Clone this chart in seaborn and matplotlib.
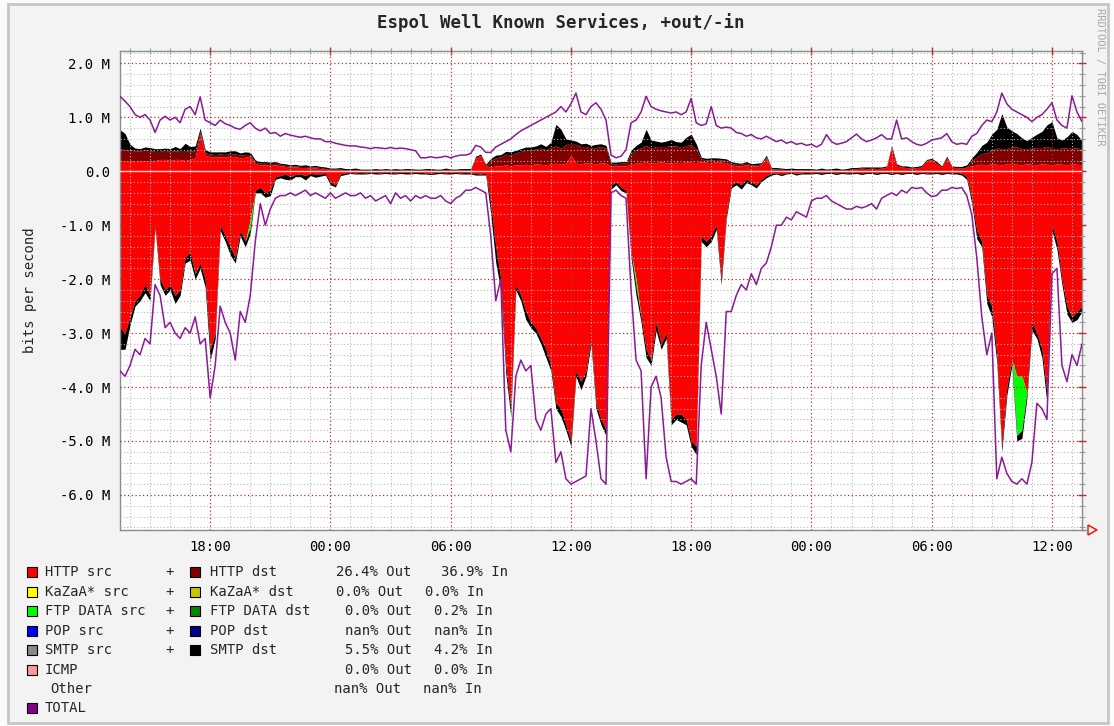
import matplotlib
matplotlib.use("Agg")
import numpy as np
import pandas as pd
import matplotlib.pyplot as plt
import matplotlib.dates as mdates
from matplotlib.ticker import MultipleLocator, FuncFormatter
from matplotlib.patches import Rectangle, Polygon
from matplotlib.lines import Line2D
import seaborn as sns

sns.set_style("white")
plt.rcParams["font.family"] = ["DejaVu Sans Mono", "DejaVu Sans"]

# ---- sample times: 15-minute steps over 48 hours ----
times = pd.date_range("2004-06-01 13:30", periods=193, freq="15min")

# ---- incoming traffic (Mbit/s, drawn below zero) ----
http_in = [
    2.9, 3.0, 2.7, 2.4, 2.3, 2.1, 2.3, 1.0, 2.0, 2.2,
    2.1, 2.3, 2.2, 1.6, 1.5, 1.9, 1.7, 2.0, 3.3, 3.0,
    1.0, 1.2, 1.4, 1.6, 1.1, 1.3, 0.9, 0.35, 0.3, 0.4,
    0.35, 0.1, 0.08, 0.05, 0.1, 0.06, 0.05, 0.08, 0.04, 0.05,
    0.05, 0.04, 0.2, 0.25, 0.05, 0.03, 0.02, 0.03, 0.02, 0.03,
    0.02, 0.02, 0.03, 0.02, 0.02, 0.03, 0.02, 0.02, 0.03, 0.02,
    0.02, 0.03, 0.04, 0.02, 0.02, 0.03, 0.02, 0.02, 0.03, 0.02,
    0.03, 0.04, 0.05, 0.04, 0.6, 1.4, 2.0, 3.6, 4.4, 2.1,
    2.3, 2.6, 2.8, 2.9, 3.1, 3.3, 3.6, 4.3, 4.4, 4.7,
    5.0, 3.7, 3.9, 3.7, 3.1, 4.3, 4.6, 4.8, 0.25, 0.2,
    0.3, 0.35, 1.5, 2.0, 2.7, 3.3, 3.5, 2.8, 3.2, 3.0,
    4.6, 4.5, 4.5, 4.6, 5.0, 5.1, 1.2, 1.3, 1.2, 1.0,
    2.0, 0.8, 0.25, 0.2, 0.25, 0.15, 0.2, 0.25, 0.15, 0.08,
    0.04, 0.03, 0.05, 0.03, 0.02, 0.04, 0.03, 0.02, 0.03, 0.02,
    0.03, 0.02, 0.02, 0.03, 0.02, 0.03, 0.02, 0.02, 0.03, 0.02,
    0.02, 0.03, 0.02, 0.02, 0.03, 0.02, 0.03, 0.02, 0.02, 0.03,
    0.02, 0.03, 0.02, 0.02, 0.03, 0.02, 0.03, 0.02, 0.04, 0.1,
    0.5, 1.1, 1.3, 2.3, 2.5, 3.4, 5.1, 4.0, 3.5, 3.8,
    3.8, 4.1, 2.8, 3.0, 3.3, 4.1, 1.0, 1.3, 2.0, 2.5,
    2.7, 2.6, 2.5,
]
ftp_in = [
    0, 0, 0, 0, 0, 0, 0, 0, 0, 0,
    0, 0, 0, 0, 0, 0, 0, 0, 0, 0,
    0, 0, 0, 0, 0, 0, 0.15, 0, 0, 0,
    0, 0, 0, 0, 0, 0, 0, 0, 0, 0,
    0, 0, 0, 0, 0, 0, 0, 0, 0, 0,
    0, 0, 0, 0, 0, 0, 0, 0, 0, 0,
    0, 0, 0, 0, 0, 0, 0, 0, 0, 0,
    0, 0, 0, 0, 0, 0, 0, 0, 0, 0,
    0, 0, 0, 0, 0, 0, 0, 0, 0, 0,
    0, 0, 0, 0, 0, 0, 0, 0, 0, 0,
    0, 0, 0, 0.15, 0, 0, 0, 0, 0, 0,
    0, 0, 0, 0, 0, 0, 0, 0, 0, 0,
    0, 0, 0, 0, 0, 0, 0, 0, 0, 0,
    0, 0, 0, 0, 0, 0, 0, 0, 0, 0,
    0, 0, 0, 0, 0, 0, 0, 0, 0, 0,
    0, 0, 0, 0, 0, 0, 0, 0, 0, 0,
    0, 0, 0, 0, 0, 0, 0, 0, 0, 0,
    0, 0, 0, 0, 0, 0, 0, 0, 0, 1.1,
    1.0, 0, 0, 0, 0, 0, 0, 0, 0, 0,
    0, 0, 0,
]
smtp_in = [
    0.4, 0.3, 0.15, 0.1, 0.1, 0.15, 0.1, 0.05, 0.1, 0.1,
    0.1, 0.15, 0.1, 0.1, 0.15, 0.1, 0.1, 0.15, 0.2, 0.1,
    0.1, 0.1, 0.15, 0.1, 0.1, 0.1, 0.1, 0.05, 0.1, 0.08,
    0.1, 0.05, 0.04, 0.1, 0.06, 0.04, 0.05, 0.08, 0.04, 0.06,
    0.04, 0.03, 0.05, 0.04, 0.03, 0.03, 0.02, 0.02, 0.03, 0.02,
    0.02, 0.03, 0.02, 0.02, 0.03, 0.02, 0.02, 0.03, 0.02, 0.02,
    0.03, 0.02, 0.02, 0.03, 0.02, 0.02, 0.03, 0.02, 0.02, 0.03,
    0.02, 0.03, 0.02, 0.03, 0.2, 0.3, 0.2, 0.15, 0.15, 0.1,
    0.1, 0.15, 0.1, 0.1, 0.1, 0.15, 0.1, 0.1, 0.15, 0.1,
    0.1, 0.1, 0.15, 0.1, 0.1, 0.1, 0.1, 0.1, 0.08, 0.05,
    0.06, 0.05, 0.1, 0.15, 0.1, 0.15, 0.1, 0.15, 0.1, 0.1,
    0.1, 0.1, 0.15, 0.1, 0.1, 0.15, 0.1, 0.1, 0.1, 0.08,
    0.1, 0.08, 0.06, 0.05, 0.08, 0.06, 0.05, 0.06, 0.04, 0.04,
    0.03, 0.02, 0.03, 0.02, 0.02, 0.03, 0.02, 0.03, 0.02, 0.02,
    0.03, 0.02, 0.02, 0.03, 0.02, 0.02, 0.03, 0.02, 0.03, 0.02,
    0.02, 0.03, 0.02, 0.02, 0.03, 0.02, 0.03, 0.02, 0.02, 0.03,
    0.02, 0.02, 0.03, 0.02, 0.03, 0.02, 0.02, 0.03, 0.03, 0.05,
    0.1, 0.15, 0.1, 0.15, 0.2, 0.15, 0.1, 0.15, 0.1, 0.1,
    0.15, 0.1, 0.15, 0.1, 0.15, 0.2, 0.1, 0.15, 0.1, 0.15,
    0.1, 0.15, 0.1,
]
total_in = [
    3.7, 3.8, 3.6, 3.3, 3.4, 3.1, 3.2, 2.1, 2.3, 2.9,
    2.8, 3.0, 3.1, 2.9, 3.0, 2.7, 3.2, 3.1, 4.2, 3.6,
    2.5, 2.8, 3.0, 3.5, 2.6, 2.8, 2.3, 1.3, 0.6, 1.0,
    0.7, 0.5, 0.45, 0.45, 0.4, 0.45, 0.4, 0.35, 0.45, 0.4,
    0.45, 0.5, 0.4, 0.5, 0.45, 0.4, 0.45, 0.45, 0.4, 0.5,
    0.45, 0.55, 0.5, 0.45, 0.6, 0.4, 0.5, 0.45, 0.55, 0.45,
    0.5, 0.45, 0.5, 0.5, 0.45, 0.55, 0.6, 0.5, 0.45, 0.35,
    0.35, 0.3, 0.35, 0.4, 1.2, 2.4, 2.0, 4.8, 5.2, 3.8,
    3.5, 3.7, 3.6, 4.6, 4.8, 4.5, 4.4, 5.4, 5.2, 5.7,
    5.8, 5.75, 5.7, 5.65, 4.4, 5.0, 5.7, 5.8, 0.4, 0.35,
    0.45, 0.5, 2.2, 3.5, 3.7, 5.7, 4.0, 3.8, 4.2, 5.3,
    5.75, 5.75, 5.8, 5.75, 5.7, 5.8, 3.6, 2.8, 3.3, 3.8,
    4.5, 2.6, 2.6, 2.3, 2.1, 2.2, 1.9, 2.1, 1.8, 1.7,
    1.4, 1.0, 1.0, 0.85, 0.9, 0.75, 0.8, 0.85, 0.55, 0.5,
    0.5, 0.45, 0.55, 0.6, 0.65, 0.7, 0.7, 0.65, 0.68, 0.65,
    0.6, 0.7, 0.5, 0.45, 0.4, 0.45, 0.35, 0.4, 0.3, 0.32,
    0.3, 0.4, 0.47, 0.45, 0.35, 0.35, 0.3, 0.32, 0.3, 0.45,
    0.8, 1.6, 2.7, 3.4, 3.0, 5.7, 5.3, 5.6, 5.75, 5.8,
    5.7, 5.8, 5.4, 4.3, 4.4, 4.6, 1.9, 1.8, 3.6, 3.9,
    3.4, 3.6, 3.2,
]

# ---- outgoing traffic (Mbit/s, drawn above zero) ----
http_src_out = [
    0.2, 0.2, 0.2, 0.18, 0.2, 0.2, 0.18, 0.2, 0.22, 0.22,
    0.2, 0.22, 0.22, 0.2, 0.22, 0.25, 0.7, 0.3, 0.27, 0.26,
    0.27, 0.26, 0.28, 0.27, 0.25, 0.26, 0.28, 0.14, 0.12, 0.12,
    0.11, 0.12, 0.1, 0.09, 0.08, 0.08, 0.07, 0.07, 0.06, 0.06,
    0.05, 0.05, 0.04, 0.04, 0.04, 0.03, 0.03, 0.03, 0.02, 0.02,
    0.02, 0.02, 0.02, 0.03, 0.02, 0.02, 0.02, 0.03, 0.02, 0.02,
    0.02, 0.03, 0.02, 0.02, 0.02, 0.03, 0.02, 0.02, 0.03, 0.02,
    0.03, 0.25, 0.3, 0.1, 0.08, 0.1, 0.1, 0.12, 0.1, 0.12,
    0.12, 0.13, 0.12, 0.14, 0.13, 0.12, 0.14, 0.15, 0.13, 0.15,
    0.3, 0.15, 0.14, 0.16, 0.15, 0.14, 0.16, 0.15, 0.1, 0.1,
    0.1, 0.1, 0.14, 0.15, 0.16, 0.18, 0.15, 0.16, 0.18, 0.16,
    0.15, 0.17, 0.16, 0.18, 0.17, 0.16, 0.18, 0.17, 0.16, 0.18,
    0.17, 0.16, 0.12, 0.1, 0.1, 0.12, 0.1, 0.1, 0.12, 0.25,
    0.05, 0.04, 0.04, 0.03, 0.03, 0.03, 0.03, 0.02, 0.03, 0.02,
    0.03, 0.02, 0.03, 0.03, 0.02, 0.03, 0.04, 0.05, 0.06, 0.05,
    0.06, 0.05, 0.06, 0.08, 0.45, 0.12, 0.08, 0.07, 0.06, 0.07,
    0.08, 0.2, 0.22, 0.15, 0.08, 0.25, 0.08, 0.07, 0.06, 0.08,
    0.1, 0.12, 0.13, 0.12, 0.14, 0.13, 0.12, 0.14, 0.15, 0.13,
    0.12, 0.14, 0.13, 0.12, 0.14, 0.13, 0.12, 0.14, 0.13, 0.12,
    0.14, 0.13, 0.12,
]
http_dst_out = [
    0.22, 0.2, 0.2, 0.2, 0.18, 0.2, 0.2, 0.17, 0.15, 0.17,
    0.17, 0.16, 0.15, 0.17, 0.16, 0.12, 0.05, 0.05, 0.05, 0.05,
    0.05, 0.05, 0.05, 0.05, 0.05, 0.05, 0.03, 0.03, 0.03, 0.03,
    0.03, 0.03, 0.03, 0.02, 0.02, 0.02, 0.02, 0.02, 0.02, 0.02,
    0.02, 0, 0, 0, 0, 0, 0, 0, 0, 0,
    0, 0, 0, 0, 0, 0, 0, 0, 0, 0,
    0, 0, 0, 0, 0, 0, 0, 0, 0, 0,
    0, 0, 0, 0, 0.12, 0.15, 0.17, 0.2, 0.2, 0.22,
    0.25, 0.26, 0.28, 0.27, 0.3, 0.28, 0.3, 0.32, 0.3, 0.35,
    0.2, 0.35, 0.32, 0.3, 0.28, 0.3, 0.3, 0.28, 0.04, 0.04,
    0.05, 0.05, 0.2, 0.25, 0.28, 0.3, 0.28, 0.3, 0.28, 0.3,
    0.32, 0.3, 0.28, 0.3, 0.32, 0.25, 0.05, 0.04, 0.05, 0.04,
    0.04, 0.04, 0.03, 0.03, 0.03, 0.03, 0.02, 0.02, 0.02, 0.02,
    0, 0, 0, 0, 0, 0, 0, 0, 0, 0,
    0, 0, 0, 0, 0, 0, 0, 0, 0, 0,
    0, 0, 0, 0, 0, 0, 0, 0, 0, 0,
    0, 0, 0, 0, 0, 0, 0, 0, 0, 0,
    0.1, 0.15, 0.2, 0.22, 0.25, 0.3, 0.3, 0.28, 0.3, 0.32,
    0.3, 0.28, 0.3, 0.32, 0.3, 0.33, 0.3, 0.28, 0.3, 0.32,
    0.3, 0.3, 0.3,
]
smtp_out = [
    0.35, 0.3, 0.1, 0.05, 0.04, 0.05, 0.06, 0.05, 0.05, 0.04,
    0.05, 0.08, 0.05, 0.15, 0.08, 0.1, 0.05, 0.05, 0.04, 0.05,
    0.04, 0.05, 0.05, 0.06, 0.04, 0.05, 0.04, 0.04, 0.03, 0.03,
    0.03, 0.03, 0.02, 0.03, 0.02, 0.03, 0.02, 0.03, 0.02, 0.03,
    0.02, 0.03, 0.02, 0.02, 0.03, 0.02, 0.02, 0.03, 0.02, 0.02,
    0.02, 0.03, 0.02, 0.02, 0.02, 0.03, 0.02, 0.02, 0.03, 0.02,
    0.02, 0.02, 0.03, 0.02, 0.02, 0.03, 0.02, 0.02, 0.02, 0.03,
    0.02, 0.03, 0.02, 0.03, 0.04, 0.05, 0.04, 0.05, 0.06, 0.05,
    0.05, 0.06, 0.05, 0.06, 0.08, 0.06, 0.1, 0.4, 0.35, 0.1,
    0.08, 0.06, 0.05, 0.06, 0.05, 0.06, 0.05, 0.05, 0.03, 0.03,
    0.03, 0.03, 0.05, 0.08, 0.1, 0.3, 0.15, 0.1, 0.08, 0.1,
    0.12, 0.08, 0.1, 0.15, 0.2, 0.1, 0.03, 0.03, 0.04, 0.03,
    0.03, 0.03, 0.03, 0.03, 0.02, 0.03, 0.02, 0.03, 0.02, 0.03,
    0.02, 0.03, 0.02, 0.02, 0.03, 0.02, 0.02, 0.03, 0.02, 0.02,
    0.03, 0.02, 0.02, 0.03, 0.02, 0.02, 0.03, 0.02, 0.02, 0.03,
    0.02, 0.03, 0.02, 0.02, 0.03, 0.02, 0.02, 0.03, 0.02, 0.02,
    0.03, 0.02, 0.02, 0.03, 0.02, 0.03, 0.02, 0.02, 0.03, 0.04,
    0.05, 0.08, 0.15, 0.2, 0.3, 0.35, 0.65, 0.4, 0.3, 0.25,
    0.2, 0.15, 0.2, 0.25, 0.3, 0.4, 0.5, 0.2, 0.15, 0.2,
    0.3, 0.25, 0.15,
]
total_out = [
    1.39, 1.3, 1.2, 1.05, 1.0, 1.05, 0.95, 0.72, 0.95, 1.02,
    0.95, 1.0, 0.9, 1.15, 1.2, 1.05, 1.38, 0.95, 0.9, 0.85,
    0.95, 0.88, 0.85, 0.8, 0.78, 0.85, 0.9, 0.8, 0.75, 0.8,
    0.7, 0.72, 0.65, 0.7, 0.67, 0.65, 0.63, 0.65, 0.62, 0.6,
    0.6, 0.55, 0.55, 0.52, 0.5, 0.48, 0.47, 0.47, 0.45, 0.44,
    0.42, 0.44, 0.43, 0.42, 0.44, 0.42, 0.43, 0.42, 0.4, 0.38,
    0.25, 0.25, 0.27, 0.25, 0.26, 0.28, 0.25, 0.28, 0.3, 0.3,
    0.33, 0.48, 0.45, 0.35, 0.35, 0.45, 0.5, 0.55, 0.6, 0.68,
    0.75, 0.8, 0.85, 0.9, 0.95, 1.0, 1.05, 1.1, 1.2, 1.1,
    1.25, 1.45, 1.1, 1.05, 1.2, 1.27, 1.15, 0.95, 0.3, 0.25,
    0.28, 0.4, 0.9, 0.95, 1.1, 1.39, 1.2, 1.15, 1.12, 1.1,
    1.08, 1.1, 1.05, 1.1, 1.35, 0.9, 0.85, 0.88, 1.2, 0.85,
    0.8, 0.82, 0.8, 0.72, 0.7, 0.65, 0.68, 0.62, 0.6, 0.65,
    0.6, 0.55, 0.58, 0.52, 0.55, 0.5, 0.52, 0.48, 0.5, 0.45,
    0.5, 0.68, 0.55, 0.5, 0.52, 0.55, 0.62, 0.69, 0.6, 0.55,
    0.58, 0.62, 0.68, 0.6, 0.6, 0.95, 0.6, 0.62, 0.55, 0.5,
    0.48, 0.52, 0.58, 0.6, 0.62, 0.7, 0.55, 0.5, 0.52, 0.5,
    0.65, 0.7, 0.85, 0.95, 0.92, 1.1, 1.45, 1.25, 1.15, 1.1,
    1.05, 1.0, 0.92, 1.0, 1.05, 1.15, 1.27, 0.95, 0.85, 0.8,
    1.4, 1.1, 0.92,
]

# ---- legend text ----
legend_src = ["HTTP src", "KaZaA* src", "FTP DATA src", "POP src", "SMTP src", "ICMP", "Other", "TOTAL"]
legend_dst = ["HTTP dst", "KaZaA* dst", "FTP DATA dst", "POP dst", "SMTP dst", None, None, None]
src_colors = ["#ff0000", "#ffff00", "#00ff00", "#0000ff", "#888888", "#ff9999", None, "#880088"]
dst_colors = ["#800000", "#c8c800", "#008800", "#000088", "#000000", None, None, None]
pct_out = ["26.4% Out", "0.0% Out", "0.0% Out", "nan% Out", "5.5% Out", "0.0% Out", "nan% Out", None]
pct_in = ["36.9% In", "0.0% In", "0.2% In", "nan% In", "4.2% In", "0.0% In", "nan% In", None]
title = "Espol Well Known Services, +out/-in"
ylabel = "bits per second"
credit = "RRDTOOL / TOBI OETIKER"

df = pd.DataFrame({
    "time": times,
    "http_in": http_in, "ftp_in": ftp_in, "smtp_in": smtp_in, "total_in": total_in,
    "http_src_out": http_src_out, "http_dst_out": http_dst_out,
    "smtp_out": smtp_out, "total_out": total_out,
})

W, H = 1114, 726
fig = plt.figure(figsize=(W / 100, H / 100), dpi=100, facecolor="#fbfbfb")


def fx(x):
    return x / W


def fy(y):
    return 1 - y / H


# outer frame
fig.patches.append(Rectangle((fx(8), fy(723)), fx(1108) - fx(8), fy(4) - fy(723),
                             transform=fig.transFigure, facecolor="#f3f3f3",
                             edgecolor="#c6c6c6", lw=2, zorder=-10))

ax = fig.add_axes([fx(120), fy(530), fx(1082) - fx(120), fy(51) - fy(530)])
ax.set_facecolor("white")

t = df["time"].values
# stacked outgoing areas
o1 = df["http_src_out"].values
o2 = o1 + df["http_dst_out"].values
o3 = o2 + df["smtp_out"].values
ax.fill_between(t, 0, o1, color="#ff0000", lw=0, zorder=1)
ax.fill_between(t, o1, o2, color="#800000", lw=0, zorder=1)
ax.fill_between(t, o2, o3, color="#000000", lw=0, zorder=1)
# stacked incoming areas
n1 = -df["http_in"].values
n2 = n1 - df["ftp_in"].values
n3 = n2 - df["smtp_in"].values
ax.fill_between(t, 0, n1, color="#ff0000", lw=0, zorder=1)
ax.fill_between(t, n1, n2, color="#00ff00", lw=0, zorder=1)
ax.fill_between(t, n2, n3, color="#000000", lw=0, zorder=1)

ax.axhline(0, color="#ffd8d8", lw=1.0, zorder=3)

# totals
sns.lineplot(data=df, x="time", y="total_out", color="#8a1a96", lw=1.1, ax=ax, zorder=4)
df["total_in_neg"] = -df["total_in"]
sns.lineplot(data=df, x="time", y="total_in_neg", color="#8a1a96", lw=1.1, ax=ax, zorder=4)

ax.set_xlim(times[0], times[-1])
ax.set_ylim(-6.65, 2.23)
ax.set_xlabel("")
ax.set_ylabel("")

ax.xaxis.set_major_locator(mdates.HourLocator(byhour=[0, 6, 12, 18]))
ax.xaxis.set_minor_locator(mdates.HourLocator())
ax.xaxis.set_major_formatter(mdates.DateFormatter("%H:%M"))
ax.yaxis.set_major_locator(MultipleLocator(1))
ax.yaxis.set_minor_locator(MultipleLocator(0.2))
ax.yaxis.set_major_formatter(FuncFormatter(lambda v, p: "0.0" if abs(v) < 1e-9 else f"{v:.1f} M"))

ax.set_axisbelow(False)
ax.grid(which="minor", color="#b8b8b8", ls=(0, (1, 2)), lw=0.8)
ax.grid(which="major", color="#b03030", ls=(0, (1, 2)), lw=0.9)

for s in ax.spines.values():
    s.set_color("#8c8c8c")
    s.set_linewidth(1.0)

ax.tick_params(which="both", top=True, right=True)
ax.tick_params(which="major", direction="inout", length=6, width=1.0, color="#b03030",
               labelsize=10, labelcolor="black")
ax.tick_params(which="minor", direction="inout", length=4, width=0.8, color="#999999")
ax.tick_params(axis="y", which="major", pad=4)
ax.tick_params(axis="x", which="major", pad=4)

# axis arrow at the right end of the time axis
fig.add_artist(Line2D([fx(1082), fx(1088)], [fy(530), fy(530)], color="#8c8c8c", lw=1,
                      transform=fig.transFigure))
fig.add_artist(Polygon([(fx(1088), fy(525)), (fx(1088), fy(535)), (fx(1097), fy(530))],
                       closed=True, transform=fig.transFigure, facecolor="none",
                       edgecolor="#ff0000", lw=1))

# titles
fig.text(fx(561), fy(23), title, ha="center", va="center", fontsize=12.5, fontweight="bold")
fig.text(fx(30), fy(290), ylabel, ha="center", va="center", rotation=90, fontsize=10)
fig.text(fx(1100), fy(77), credit, ha="center", va="center", rotation=270,
         fontsize=7.5, color="#a8a8a8")

# legend rows
row_y = [572, 592, 611, 631, 650, 670, 689, 708]
out_x = [336, 336, 345, 345, 345, 345, 334]
in_x = [441, 425, 434, 434, 434, 434, 423]
for i, yy in enumerate(row_y):
    if src_colors[i] is not None:
        fig.patches.append(Rectangle((fx(27), fy(yy + 5)), fx(10), 10 / H,
                                     transform=fig.transFigure, facecolor=src_colors[i],
                                     edgecolor="black", lw=0.8))
    lx = 45 if src_colors[i] is not None else 50
    fig.text(fx(lx), fy(yy), legend_src[i], ha="left", va="center", fontsize=10)
    if legend_dst[i] is not None:
        fig.text(fx(165), fy(yy), "+", ha="left", va="center", fontsize=10)
        fig.patches.append(Rectangle((fx(190), fy(yy + 5)), fx(10), 10 / H,
                                     transform=fig.transFigure, facecolor=dst_colors[i],
                                     edgecolor="black", lw=0.8))
        fig.text(fx(210), fy(yy), legend_dst[i], ha="left", va="center", fontsize=10)
    if pct_out[i] is not None:
        fig.text(fx(out_x[i]), fy(yy), pct_out[i], ha="left", va="center", fontsize=10)
        fig.text(fx(in_x[i]), fy(yy), pct_in[i], ha="left", va="center", fontsize=10)

fig.savefig("out.png", dpi=100, facecolor=fig.get_facecolor())
